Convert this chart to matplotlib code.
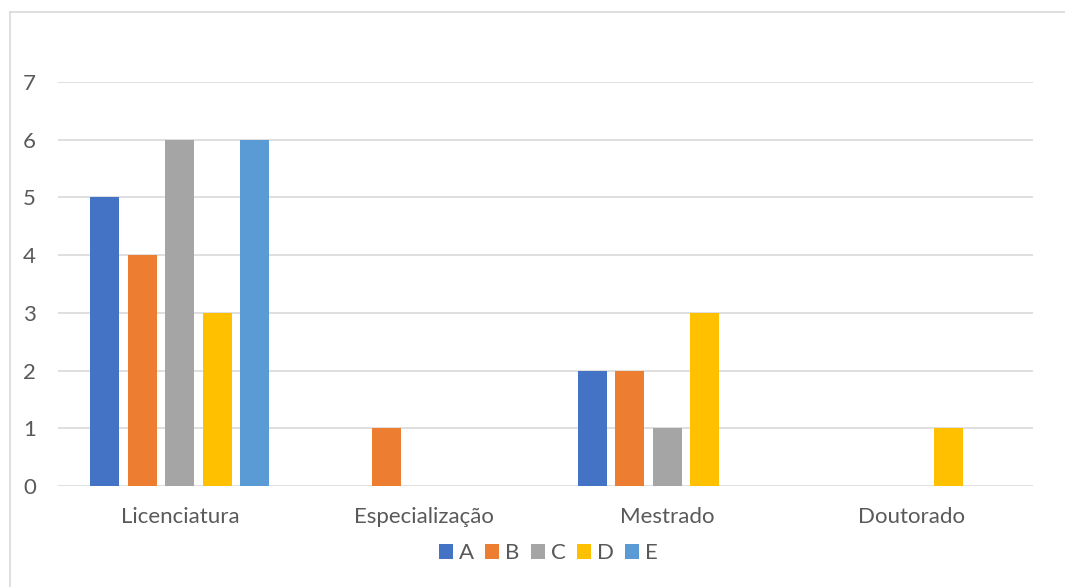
import numpy as np
import matplotlib.pyplot as plt
from matplotlib.lines import Line2D

categories = ['Licenciatura', 'Especialização', 'Mestrado', 'Doutorado']
series = ['A', 'B', 'C', 'D', 'E']
values = {
    'A': [5, 0, 2, 0],
    'B': [4, 1, 2, 0],
    'C': [6, 0, 1, 0],
    'D': [3, 0, 3, 1],
    'E': [6, 0, 0, 0],
}
colors = ['#4472c4', '#ed7d31', '#a5a5a5', '#ffc000', '#5b9bd5']

plt.rcParams['font.family'] = ['Lato', 'DejaVu Sans']

W, H = 1065, 587
fig = plt.figure(figsize=(W / 100, H / 100), dpi=100)
ax = fig.add_axes([58 / W, 1 - 486 / H, (1033 - 58) / W, (486 - 82) / H])

# light frame along the top and left of the chart area
left, top = 9.5 / W, 1 - 11.5 / H
for xs, ys in [([left, 1.0], [top, top]), ([left, left], [0.0, top])]:
    fig.add_artist(Line2D(xs, ys, transform=fig.transFigure,
                          color='#d9d9d9', linewidth=1.2))

x = np.arange(len(categories))
step = 0.154
width = 0.119
for i, (name, color) in enumerate(zip(series, colors)):
    ax.bar(x + (i - 2) * step, values[name], width, color=color, label=name, zorder=3)

ax.set_xlim(-0.5, len(categories) - 0.5)
ax.set_ylim(0, 7)
ax.set_yticks(range(8))
ax.set_xticks(x)
ax.set_xticklabels(categories)
ax.yaxis.grid(True, color='#d9d9d9', linewidth=1.2, zorder=0)
for s in ax.spines.values():
    s.set_visible(False)
ax.tick_params(length=0, labelsize=16, colors='#595959')
ax.tick_params(axis='x', pad=15)
ax.tick_params(axis='y', pad=16)

ax.legend(loc='center', bbox_to_anchor=(0.503, -0.166), ncol=5, frameon=False,
          fontsize=16, labelcolor='#595959', handlelength=0.63, handleheight=0.63,
          handletextpad=0.27, columnspacing=0.5)

fig.savefig('out.png', dpi=100)
